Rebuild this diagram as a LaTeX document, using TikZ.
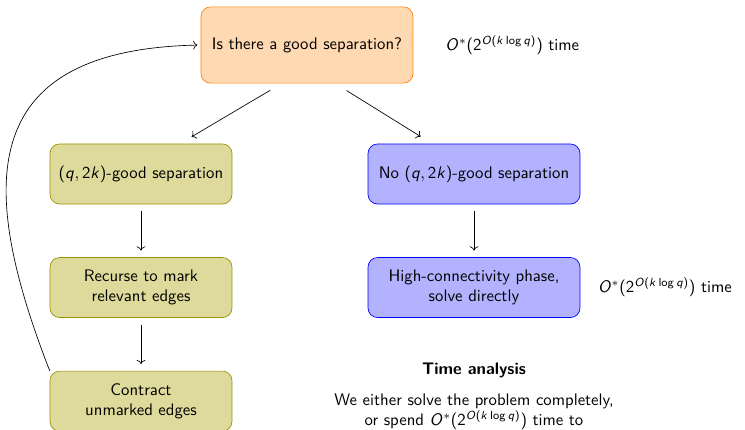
\documentclass[tikz,border=0pt]{standalone}
\usepackage{amsmath}
\usepackage{tikz}
\usetikzlibrary{arrows.meta, positioning}

% sans serif math: upright digits/operators, slanted letters
\SetSymbolFont{operators}{normal}{OT1}{cmss}{m}{n}
\DeclareSymbolFont{sfletters}{OT1}{cmss}{m}{sl}
\DeclareMathSymbol{O}{\mathalpha}{sfletters}{`O}
\DeclareMathSymbol{k}{\mathalpha}{sfletters}{`k}
\DeclareMathSymbol{q}{\mathalpha}{sfletters}{`q}
\newcommand{\runtime}{$O^*(2^{O(k \log q)})$}

\begin{document}
\begin{tikzpicture}[
    x=0.021cm, y=-0.021cm,
    node distance=1.11cm,
    font=\sffamily,
    box/.style={draw, rounded corners=2mm, minimum height=1.26cm, align=center},
    querybox/.style={box, fill=orange!30, draw=orange, minimum width=4.45cm, minimum height=1.6cm},
    yesbox/.style={box, fill=olive!30, draw=olive!90!yellow, minimum width=3.82cm},
    nobox/.style={box, fill=blue!30, draw=blue, minimum width=4.45cm},
    arr/.style={->, shorten >=4pt, shorten <=4pt},
    splitarr/.style={->, shorten >=8pt, shorten <=8pt}
]
\useasboundingbox (0,0) rectangle (745,430);

% Decision
\node[querybox] (query) at (307,45) {Is there a good separation?};
\node[right=0.55cm of query] (querytime) {\runtime{} time};

% Good separation branch
\node[yesbox] (good) at (141,174) {$(q, 2k)$-good separation};
\node[yesbox, below=of good] (recurse) {Recurse to mark\\relevant edges};
\node[yesbox, below=of recurse] (contract) {Contract\\unmarked edges};

% No good separation branch
\node[nobox] (nogood) at (474,174) {No $(q, 2k)$-good separation};
\node[nobox, below=of nogood] (direct) {High-connectivity phase,\\solve directly};
\node[right=0.25cm of direct] (directtime) {\runtime{} time};

% Arrows
\draw[splitarr] ([xshift=-0.53cm]query.south) -- ([xshift=0.82cm]good.north);
\draw[splitarr] ([xshift=0.59cm]query.south) -- ([xshift=-0.88cm]nogood.north);
\draw[arr] (good) -- (recurse);
\draw[arr] (recurse) -- (contract);
\draw[arr] (nogood) -- (direct);

% Loop back after contracting
\draw[->, shorten >=2pt] (contract.north west) .. controls +(-70,-180) and +(-229,5) .. (query.west);

% Running time
\node[font=\sffamily\bfseries] (analysis) at (474,370) {Time analysis};
\node[below=0.1cm of analysis, align=center] (summary) {We either solve the problem completely,\\or spend \runtime{} time to};

\end{tikzpicture}
\end{document}
